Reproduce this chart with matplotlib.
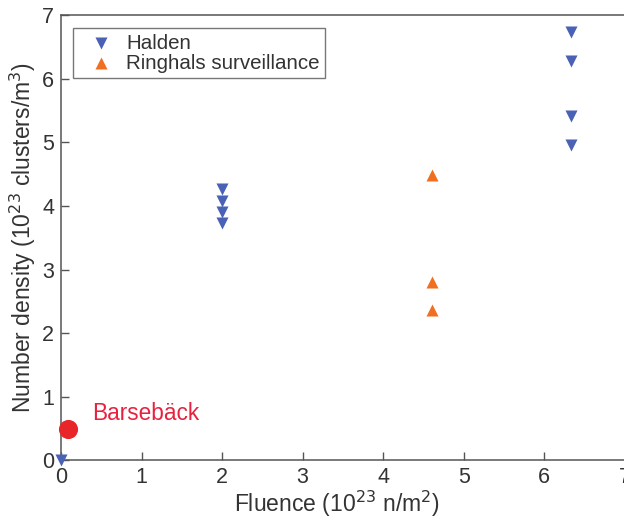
import matplotlib
matplotlib.use("Agg")
import matplotlib.pyplot as plt

plt.rcParams['font.family'] = ['Liberation Sans', 'DejaVu Sans']

# Halden test reactor samples
halden_x = [0.0, 2.0, 2.0, 2.0, 2.0, 6.34, 6.34, 6.34, 6.34]
halden_y = [0.0, 4.26, 4.08, 3.90, 3.73, 6.74, 6.28, 5.42, 4.96]

# Ringhals surveillance samples
ringhals_x = [4.61, 4.61, 4.61]
ringhals_y = [4.49, 2.81, 2.37]

# Barsebäck
bars_x = [0.09]
bars_y = [0.49]

x_ticks = [0, 1, 2, 3, 4, 5, 6, 7]
y_ticks = [0, 1, 2, 3, 4, 5, 6, 7]

fig = plt.figure(figsize=(6.24, 5.22), dpi=100)
ax = fig.add_axes([0.098, 0.118, 0.903, 0.853])

blue = '#4a62b6'
orange = '#f07022'
red = '#e8262a'

ax.scatter(halden_x, halden_y, marker='v', s=75, color=blue, linewidths=0,
           label='Halden', clip_on=False, zorder=3)
ax.scatter(ringhals_x, ringhals_y, marker='^', s=75, color=orange, linewidths=0,
           label='Ringhals surveillance', clip_on=False, zorder=3)
ax.scatter(bars_x, bars_y, marker='o', s=190, color=red, linewidths=0,
           clip_on=False, zorder=3)
ax.text(0.39, 0.74, 'Barsebäck', color='#e8213e', fontsize=16.3, va='center')

ax.set_xlim(0, 7)
ax.set_ylim(0, 7)
ax.set_xticks(x_ticks)
ax.set_yticks(y_ticks)
ax.tick_params(direction='in', length=6, width=1, color='#555555',
               labelsize=15.5, labelcolor='#333333', pad=5)
for sp in ax.spines.values():
    sp.set_color('#555555')
    sp.set_linewidth(1.1)

ax.set_xlabel('Fluence (10$^{23}$ n/m$^2$)', fontsize=16.5, color='#333333')
ax.xaxis.set_label_coords(0.49, -0.064)
ax.set_ylabel('Number density (10$^{23}$ clusters/m$^3$)', fontsize=16.5,
              color='#333333', labelpad=3)

leg = ax.legend(loc='upper left', bbox_to_anchor=(0.021, 0.97), fontsize=14.8,
                frameon=True, fancybox=False, handletextpad=0.15,
                borderpad=0.25, labelspacing=0.05, handlelength=2.2,
                borderaxespad=0.0)
leg.get_frame().set_edgecolor('#555555')
leg.get_frame().set_linewidth(1.0)
for t in leg.get_texts():
    t.set_color('#333333')

fig.savefig('out.png', dpi=100)
